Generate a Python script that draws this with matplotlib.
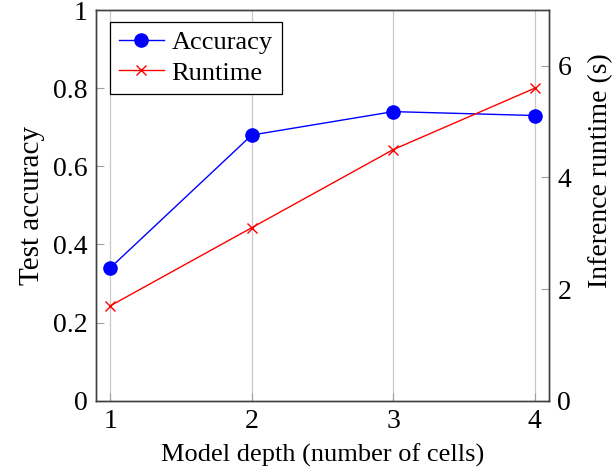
import matplotlib
matplotlib.use("Agg")
from matplotlib import pyplot as plt

depth = [1, 2, 3, 4]
accuracy = [0.34, 0.68, 0.74, 0.73]
runtime = [1.70, 3.10, 4.50, 5.60]

plt.rcParams['font.family'] = ['Liberation Serif', 'DejaVu Serif']

fig = plt.figure(figsize=(6.12, 4.69), dpi=100)
ax = fig.add_axes([0.157, 0.1456, 0.740, 0.833])
ax2 = ax.twinx()

l1, = ax.plot(depth, accuracy, color='blue', marker='o', markersize=9.5, lw=1)
l2, = ax2.plot(depth, runtime, color='red', marker='x', markersize=7, mew=1, lw=1)

ax.set_xlim(0.9, 4.1)
ax.set_ylim(0, 1)
ax2.set_ylim(0, 7)
ax.set_xticks(depth)
ax.set_yticks([0, 0.2, 0.4, 0.6, 0.8, 1])
ax.set_yticklabels(['0', '0.2', '0.4', '0.6', '0.8', '1'])
ax2.set_yticks([0, 2, 4, 6])
ax.grid(axis='x', color='#c8c8c8', lw=0.9)

for a in (ax, ax2):
    a.tick_params(direction='in', length=6, width=0.8, color='#a0a0a0',
                  labelsize=20, pad=6)
    for s in a.spines.values():
        s.set_color('#404040')
        s.set_linewidth(1.0)

ax.set_xlabel('Model depth (number of cells)', fontsize=19, labelpad=7)
ax.set_ylabel('Test accuracy', fontsize=21, labelpad=6)
ax2.set_ylabel('Inference runtime (s)', fontsize=20)
ax2.yaxis.set_label_coords(1.086, 0.59)

leg = ax.legend([l1, l2], ['Accuracy', 'Runtime'], loc='upper left',
                bbox_to_anchor=(0.03, 0.97), fontsize=19, fancybox=False,
                edgecolor='black', framealpha=1, borderpad=0.35,
                handlelength=1.7, handletextpad=0.3, labelspacing=0.25,
                borderaxespad=0)
leg.get_frame().set_linewidth(0.9)

fig.savefig('out.png', dpi=100)
